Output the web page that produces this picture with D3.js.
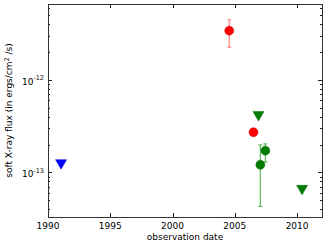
<!DOCTYPE html>
<html lang="en">
  <head>
    <script src="https://d3js.org/d3.v7.min.js"></script>
    <style>
      body { margin: 0; background: #fff; }
      text { font-family: "DejaVu Sans", sans-serif; fill: #000; }
    </style>
  </head>
  <body>
    <div id="chart"></div>
    <script>
      // detections with error bars
      const detYears = [2004.55, 2006.5, 2007.05, 2007.45];
      const detFlux = [3.4e-12, 2.72e-13, 1.21e-13, 1.72e-13];
      const detLow = [2.26e-12, 2.72e-13, 4.3e-14, 1.3e-13];
      const detHigh = [4.46e-12, 2.72e-13, 1.98e-13, 2.03e-13];
      const detGroup = ["red", "red", "green", "green"];

      // upper limits (downward triangles)
      const limYears = [1991.05, 2006.9, 2010.4];
      const limFlux = [1.27e-13, 4.2e-13, 6.7e-14];
      const limGroup = ["blue", "green", "green"];

      const xTicks = [1990, 1995, 2000, 2005, 2010];
      const yTicks = [1e-13, 1e-12];

      const W = 327, H = 246;
      const mLeft = 48, mRight = 322, mTop = 4, mBottom = 217;
      const fs = 9;

      const colors = { red: "#ff0000", green: "#007d00", blue: "#0000ff" };
      const barColors = { red: "#ff8080", green: "#5fba5f", blue: "#8080ff" };

      const x = d3.scaleLinear().domain([1990, 2012]).range([mLeft, mRight]);
      const y = d3.scaleLog().domain([3.3e-14, 6.6e-12]).range([mBottom, mTop]);

      const svg = d3.select("#chart").append("svg")
        .attr("width", W).attr("height", H);

      // minor ticks on y
      const minor = [];
      [1e-14, 1e-13, 1e-12].forEach(d => {
        for (let k = 2; k <= 9; k++) {
          const v = d * k;
          if (v >= y.domain()[0] && v <= y.domain()[1]) minor.push(v);
        }
      });

      const g = svg.append("g").attr("stroke", "#222").attr("stroke-width", 1);
      g.selectAll(".ymin").data(minor).enter().append("path")
        .attr("d", d => `M${mLeft},${Math.round(y(d)) + 0.5}h2M${mRight},${Math.round(y(d)) + 0.5}h-2`);
      g.selectAll(".ymaj").data(yTicks).enter().append("path")
        .attr("d", d => `M${mLeft},${Math.round(y(d)) + 0.5}h4M${mRight},${Math.round(y(d)) + 0.5}h-4`);
      g.selectAll(".xmaj").data(xTicks).enter().append("path")
        .attr("d", d => `M${Math.round(x(d)) + 0.5},${mBottom}v-4M${Math.round(x(d)) + 0.5},${mTop}v4`);

      // frame
      svg.append("rect")
        .attr("x", mLeft + 0.5).attr("y", mTop + 0.5)
        .attr("width", mRight - mLeft).attr("height", mBottom - mTop)
        .attr("fill", "none").attr("stroke", "#333").attr("stroke-width", 1);

      // x tick labels
      svg.selectAll(".xl").data(xTicks).enter().append("text")
        .attr("x", d => x(d)).attr("y", mBottom + 12)
        .attr("text-anchor", "middle").attr("font-size", fs)
        .text(d => d);

      // y tick labels with exponents
      const yl = svg.selectAll(".yl").data(yTicks).enter().append("text")
        .attr("x", mLeft - 4).attr("y", d => y(d) + 5)
        .attr("text-anchor", "end").attr("font-size", fs);
      yl.append("tspan").text("10");
      yl.append("tspan").attr("font-size", 6.5).attr("dy", -4.5)
        .text(d => "-" + Math.round(-Math.log10(d)));

      // axis labels
      svg.append("text")
        .attr("x", (mLeft + mRight) / 2).attr("y", 240)
        .attr("text-anchor", "middle").attr("font-size", fs)
        .text("observation date");

      const ylab = svg.append("text")
        .attr("transform", `translate(12,${(mTop + mBottom) / 2}) rotate(-90)`)
        .attr("text-anchor", "middle").attr("font-size", fs);
      ylab.append("tspan").text("soft X-ray flux (in ergs/cm");
      ylab.append("tspan").attr("font-size", 6.5).attr("dy", -3.5).text("2");
      ylab.append("tspan").attr("dy", 3.5).text(" /s)");

      // error bars
      const det = detYears.map((yr, i) => ({
        yr, f: detFlux[i], lo: detLow[i], hi: detHigh[i], grp: detGroup[i]
      }));
      const bars = svg.append("g");
      det.filter(d => d.lo !== d.hi).forEach(d => {
        const cx = x(d.yr);
        bars.append("path")
          .attr("d", `M${cx},${y(d.hi)}V${y(d.lo)}M${cx - 2},${y(d.hi)}h4M${cx - 2},${y(d.lo)}h4`)
          .attr("stroke", barColors[d.grp]).attr("stroke-width", 1.2)
          .attr("fill", "none");
      });

      // detection markers
      svg.append("g").selectAll("circle").data(det).enter().append("circle")
        .attr("cx", d => x(d.yr)).attr("cy", d => y(d.f)).attr("r", 4.5)
        .attr("fill", d => colors[d.grp])
        .attr("stroke", d => d3.color(colors[d.grp]).darker(0.5)).attr("stroke-width", 0.5);

      // upper limit markers
      const lim = limYears.map((yr, i) => ({ yr, f: limFlux[i], grp: limGroup[i] }));
      const tri = d3.symbol().type(d3.symbolTriangle).size(52);
      svg.append("g").selectAll("path").data(lim).enter().append("path")
        .attr("d", tri)
        .attr("transform", d => `translate(${x(d.yr)},${y(d.f)}) rotate(180)`)
        .attr("fill", d => colors[d.grp])
        .attr("stroke", d => d3.color(colors[d.grp]).darker(0.5)).attr("stroke-width", 0.5);
    </script>
  </body>
</html>
